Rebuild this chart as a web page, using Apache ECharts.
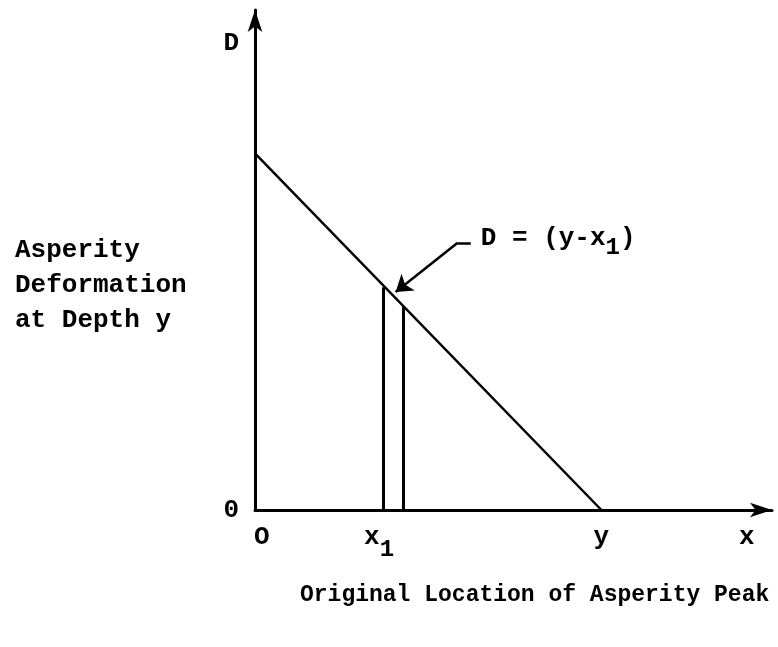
<!DOCTYPE html>
<html>
<head>
<meta charset="utf-8">
<script src="https://cdn.jsdelivr.net/npm/echarts@6/dist/echarts.min.js"></script>
<style>
  html, body { margin: 0; padding: 0; background: #fff; }
  #chart { width: 778px; height: 647px; }
</style>
</head>
<body>
<div id="chart"></div>
<script>
// deformation line D = (y - x1), from intercept down to x = y
var lineX = [0, 10.05];
var lineY = [10.34, 0];
// the two verticals either side of x1, up to the line
var stemX = [3.73, 4.31];
var stemTop = [6.46, 5.91];
// leader arrow for the equation label (end, bend, tip)
var leaderX = [6.26, 5.88, 4.08];
var leaderY = [7.75, 7.75, 6.32];
var eqPoint = [6.55, 7.75];
// tick labels
var xTickValues = [0.2, 3.6, 10.05, 14.27];
var xTickLabels = ['O', '{v|x}{s|1}', 'y', 'x'];
var yTickValues = [0, 13.54];
var yTickLabels = ['0', 'D'];

var FONT = '"Liberation Mono", "DejaVu Sans Mono", monospace';

var myChart = echarts.init(document.getElementById('chart'));

var stemData = [];
stemX.forEach(function (x, i) {
    stemData.push({ coords: [[x, 0], [x, stemTop[i]]] });
});

myChart.setOption({
    backgroundColor: '#fff',
    animation: false,
    grid: { left: 255, right: 6, top: 10, bottom: 137, containLabel: false },
    xAxis: {
        type: 'value', min: 0, max: 15,
        splitLine: { show: false },
        axisTick: { show: false },
        axisLine: {
            onZero: false,
            lineStyle: { color: '#000', width: 3 },
            symbol: ['none', 'arrow'], symbolSize: [11, 22]
        },
        axisLabel: {
            customValues: xTickValues,
            margin: 14,
            color: '#000', fontFamily: FONT, fontWeight: 'bold', fontSize: 26,
            formatter: function (v) {
                var i = xTickValues.indexOf(v);
                return i < 0 ? '' : xTickLabels[i];
            },
            rich: {
                v: { fontFamily: FONT, fontWeight: 'bold', fontSize: 26, color: '#000', verticalAlign: 'top' },
                s: { fontFamily: FONT, fontWeight: 'bold', fontSize: 24, color: '#000', padding: [14, 0, 0, 0] }
            }
        }
    },
    yAxis: {
        type: 'value', min: 0, max: 14.5,
        splitLine: { show: false },
        axisTick: { show: false },
        axisLine: {
            show: true, onZero: false,
            lineStyle: { color: '#000', width: 3 },
            symbol: ['none', 'arrow'], symbolSize: [11, 22]
        },
        axisLabel: {
            customValues: yTickValues,
            margin: 16,
            color: '#000', fontFamily: FONT, fontWeight: 'bold', fontSize: 26,
            formatter: function (v) {
                var i = yTickValues.indexOf(v);
                return i < 0 ? '' : yTickLabels[i];
            }
        }
    },
    graphic: [
        {
            type: 'text', left: 15, top: 233,
            style: {
                text: 'Asperity\nDeformation\nat Depth y',
                font: 'bold 26px ' + FONT, fill: '#000', lineHeight: 35
            }
        },
        {
            type: 'text', left: 300, top: 584,
            style: {
                text: 'Original Location of Asperity Peak',
                font: 'bold 23px ' + FONT, fill: '#000'
            }
        }
    ],
    series: [
        {
            type: 'line',
            data: lineX.map(function (x, i) { return [x, lineY[i]]; }),
            symbol: 'none',
            lineStyle: { color: '#000', width: 2.5 }
        },
        {
            type: 'lines',
            coordinateSystem: 'cartesian2d',
            data: stemData,
            lineStyle: { color: '#000', width: 3, opacity: 1 }
        },
        {
            type: 'lines',
            coordinateSystem: 'cartesian2d',
            symbol: 'none',
            data: [{ coords: [[leaderX[0], leaderY[0]], [leaderX[1], leaderY[1]]] }],
            lineStyle: { color: '#000', width: 2.5, opacity: 1 }
        },
        {
            type: 'lines',
            coordinateSystem: 'cartesian2d',
            symbol: ['none', 'arrow'],
            symbolSize: 16,
            data: [{ coords: [[leaderX[1], leaderY[1]], [leaderX[2], leaderY[2]]] }],
            lineStyle: { color: '#000', width: 2.5, opacity: 1 }
        },
        {
            type: 'scatter',
            data: [eqPoint],
            symbolSize: 0,
            itemStyle: { opacity: 1, color: '#000' },
            label: {
                show: true, position: 'right', distance: 0, color: '#000', opacity: 1,
                formatter: '{v|D = (y-x}{s|1}{v|)}',
                rich: {
                    v: { fontFamily: FONT, fontWeight: 'bold', fontSize: 26, color: '#000', verticalAlign: 'top' },
                    s: { fontFamily: FONT, fontWeight: 'bold', fontSize: 24, color: '#000', padding: [10, 0, 0, 0] }
                }
            }
        }
    ]
});
</script>
</body>
</html>
